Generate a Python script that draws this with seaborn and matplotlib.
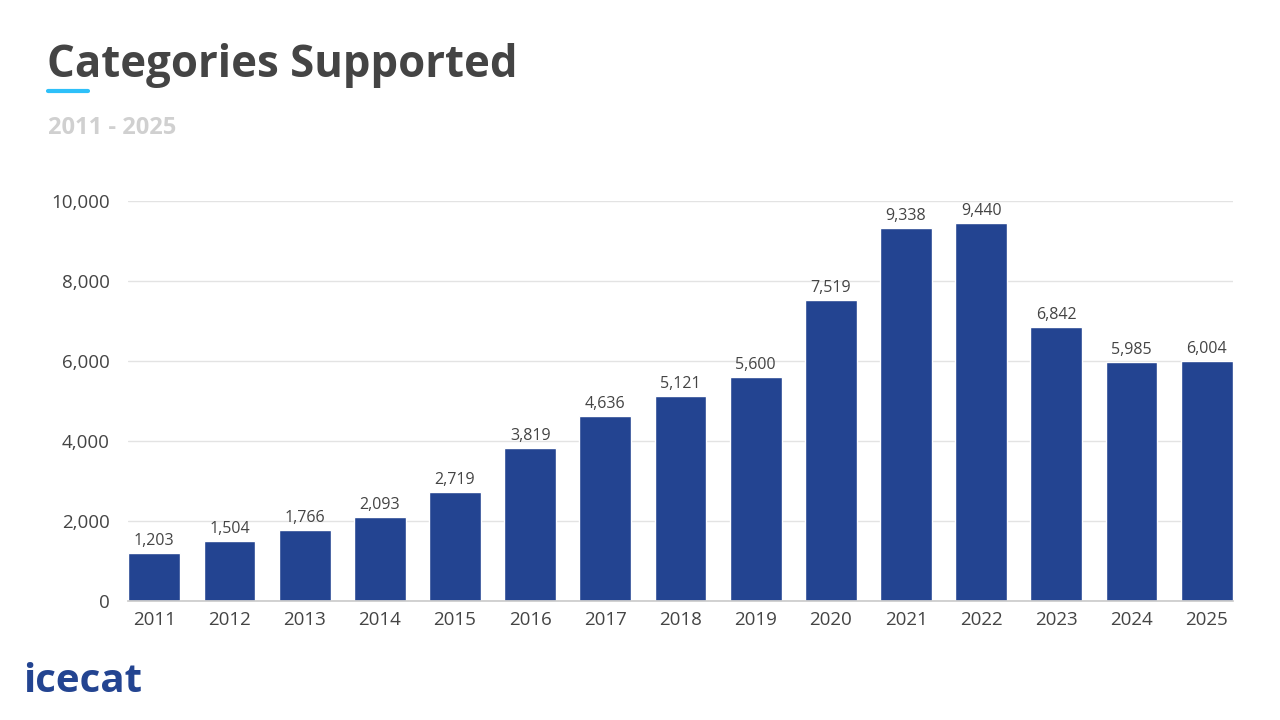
import matplotlib
matplotlib.use("Agg")
import matplotlib.pyplot as plt
import seaborn as sns
import pandas as pd

# --- DATA ---
years = ["2011", "2012", "2013", "2014", "2015", "2016", "2017", "2018",
         "2019", "2020", "2021", "2022", "2023", "2024", "2025"]
categories = [1203, 1504, 1766, 2093, 2719, 3819, 4636, 5121,
              5600, 7519, 9338, 9440, 6842, 5985, 6004]
y_ticks = [0, 2000, 4000, 6000, 8000, 10000]

BAR_COLOR = "#234491"
TEXT_COLOR = "#444444"

sns.set_theme(style="white")
plt.rcParams['font.family'] = ['Open Sans', 'DejaVu Sans']

df = pd.DataFrame({"year": years, "value": categories})

fig = plt.figure(figsize=(12.8, 7.2), dpi=100)
ax = fig.add_axes([0.1, 0.1653, 0.8633, 0.5555])

sns.barplot(data=df, x="year", y="value", color=BAR_COLOR, saturation=1,
            width=0.69, ax=ax)

for i, v in enumerate(categories):
    ax.text(i, v + 100, f"{v:,}", ha="center", va="bottom",
            fontsize=11.5, color=TEXT_COLOR, clip_on=False)

ax.set_xlim(-0.35, len(years) - 1 + 0.35)
ax.set_ylim(0, 10000)
ax.set_yticks(y_ticks)
ax.set_yticklabels([f"{t:,}" for t in y_ticks])
ax.yaxis.grid(True, color="#e3e3e3", linewidth=1)
ax.set_axisbelow(True)
ax.set_xlabel("")
ax.set_ylabel("")
ax.tick_params(axis="both", length=0, labelsize=13.5, labelcolor=TEXT_COLOR)
ax.tick_params(axis="y", pad=13)
ax.tick_params(axis="x", pad=7)
for side in ["top", "right", "left"]:
    ax.spines[side].set_visible(False)
ax.spines["bottom"].set_color("#cccccc")

# title block
fig.text(47 / 1280, 1 - 66 / 720, "Categories Supported", fontsize=31.5,
         fontweight="bold", color=TEXT_COLOR, va="center", ha="left")
fig.add_artist(plt.Line2D([48 / 1280, 88 / 1280], [1 - 91 / 720, 1 - 91 / 720],
                          color="#2ec0f9", linewidth=3))
fig.text(48 / 1280, 1 - 128 / 720, "2011 - 2025", fontsize=17,
         fontweight="bold", color="#d0d0d0", va="center", ha="left")

# logo
fig.text(23 / 1280, 1 - 682 / 720, "icecat", fontsize=29, fontweight="bold",
         color=BAR_COLOR, va="center", ha="left")

fig.savefig("out.png", dpi=100)
